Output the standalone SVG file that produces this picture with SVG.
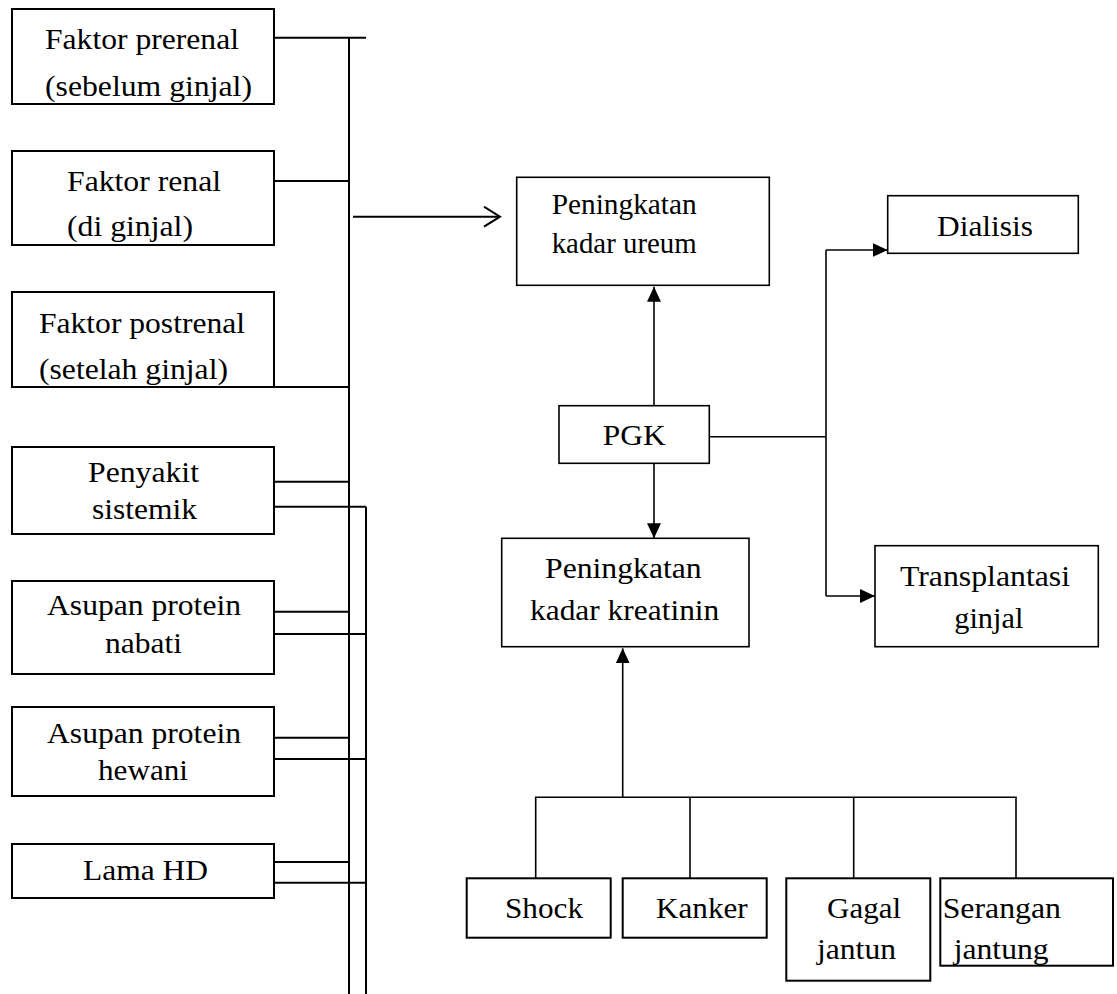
<svg xmlns="http://www.w3.org/2000/svg" width="1117" height="994" viewBox="0 0 1117 994">
<style>
  .box { fill: #ffffff; stroke: #000000; }
  .lb { stroke-width: 2; }
  .rb { stroke-width: 1.6; }
  .t { font-family: 'Liberation Serif', 'Times New Roman', Tinos, serif; font-size: 29px; fill: #000000; }
  .cl { stroke: #000000; stroke-width: 2; fill: none; }
  .cr { stroke: #000000; stroke-width: 1.6; fill: none; }
</style>
<defs>
  <marker id="fa" markerUnits="userSpaceOnUse" markerWidth="16" markerHeight="16" refX="15" refY="7" orient="auto">
    <path d="M0,0 L15,7 L0,14 z" fill="#000000"/>
  </marker>
  <marker id="oa" markerUnits="userSpaceOnUse" markerWidth="20" markerHeight="24" refX="17" refY="11" orient="auto">
    <path d="M1,1 L17,11 L1,21" fill="none" stroke="#000000" stroke-width="2"/>
  </marker>
  <clipPath id="clipSer">
    <rect x="940.3" y="878.3" width="172.7" height="87.4"/>
  </clipPath>
</defs>
<rect width="1117" height="994" fill="#ffffff"/>

<g id="connectors">
  <path class="cl" d="M349,37.7 V994"/>
  <path class="cl" d="M274,37.7 H366"/>
  <path class="cl" d="M274,181 H349"/>
  <path class="cl" d="M274,387 H349"/>
  <path class="cl" d="M274,481.7 H349"/>
  <path class="cl" d="M274,611.7 H349"/>
  <path class="cl" d="M274,737.7 H349"/>
  <path class="cl" d="M274,862 H349"/>
  <path class="cl" d="M366,506.7 V994"/>
  <path class="cl" d="M274,506.7 H366"/>
  <path class="cl" d="M274,634 H366"/>
  <path class="cl" d="M274,759 H366"/>
  <path class="cl" d="M274,882.7 H366"/>
  <path class="cl" d="M353,216.7 H500" marker-end="url(#oa)"/>
  <path class="cr" d="M654,405.7 V286.7" marker-end="url(#fa)"/>
  <path class="cr" d="M654,463.3 V538.3" marker-end="url(#fa)"/>
  <path class="cr" d="M709.3,436.7 H826"/>
  <path class="cr" d="M826,250 V596"/>
  <path class="cr" d="M826,250 H887.7" marker-end="url(#fa)"/>
  <path class="cr" d="M826,596 H875" marker-end="url(#fa)"/>
  <path class="cr" d="M535.7,878.3 V797.3 H1016 V878.3"/>
  <path class="cr" d="M690,797.3 V878.3"/>
  <path class="cr" d="M853.7,797.3 V878.3"/>
  <path class="cr" d="M622.7,797.3 V648.3" marker-end="url(#fa)"/>
</g>

<g id="prerenal">
  <rect class="box lb" x="12" y="9" width="262" height="95"/>
  <text class="t" font-family="Liberation Serif" x="45" y="49" textLength="194" lengthAdjust="spacingAndGlyphs">Faktor prerenal</text>
  <text class="t" font-family="Liberation Serif" x="45" y="95.5" textLength="207" lengthAdjust="spacingAndGlyphs">(sebelum ginjal)</text>
</g>
<g id="renal">
  <rect class="box lb" x="12" y="151" width="262" height="94"/>
  <text class="t" font-family="Liberation Serif" x="67" y="190.7" textLength="154" lengthAdjust="spacingAndGlyphs">Faktor renal</text>
  <text class="t" font-family="Liberation Serif" x="67" y="235.5" textLength="126" lengthAdjust="spacingAndGlyphs">(di ginjal)</text>
</g>
<g id="postrenal">
  <rect class="box lb" x="12" y="292" width="262" height="95"/>
  <text class="t" font-family="Liberation Serif" x="39" y="333" textLength="206" lengthAdjust="spacingAndGlyphs">Faktor postrenal</text>
  <text class="t" font-family="Liberation Serif" x="39" y="378.5" textLength="189" lengthAdjust="spacingAndGlyphs">(setelah ginjal)</text>
</g>
<g id="sistemik">
  <rect class="box lb" x="12" y="447" width="262" height="87"/>
  <text class="t" font-family="Liberation Serif" x="88" y="481.7" textLength="111" lengthAdjust="spacingAndGlyphs">Penyakit</text>
  <text class="t" font-family="Liberation Serif" x="92" y="519" textLength="105" lengthAdjust="spacingAndGlyphs">sistemik</text>
</g>
<g id="nabati">
  <rect class="box lb" x="12" y="581" width="262" height="93"/>
  <text class="t" font-family="Liberation Serif" x="47" y="615" textLength="194" lengthAdjust="spacingAndGlyphs">Asupan protein</text>
  <text class="t" font-family="Liberation Serif" x="105" y="653" textLength="77" lengthAdjust="spacingAndGlyphs">nabati</text>
</g>
<g id="hewani">
  <rect class="box lb" x="12" y="707" width="262" height="89"/>
  <text class="t" font-family="Liberation Serif" x="47" y="743" textLength="194" lengthAdjust="spacingAndGlyphs">Asupan protein</text>
  <text class="t" font-family="Liberation Serif" x="98" y="780" textLength="90" lengthAdjust="spacingAndGlyphs">hewani</text>
</g>
<g id="lamahd">
  <rect class="box lb" x="12" y="844" width="262" height="54"/>
  <text class="t" font-family="Liberation Serif" x="83" y="880" textLength="125" lengthAdjust="spacingAndGlyphs">Lama HD</text>
</g>

<g id="ureum">
  <rect class="box rb" x="516.7" y="177.3" width="252.6" height="108"/>
  <text class="t" font-family="Liberation Serif" x="551.7" y="214" textLength="145" lengthAdjust="spacingAndGlyphs">Peningkatan</text>
  <text class="t" font-family="Liberation Serif" x="551.7" y="253.3" textLength="145" lengthAdjust="spacingAndGlyphs">kadar ureum</text>
</g>
<g id="pgk">
  <rect class="box rb" x="559" y="405.7" width="150.3" height="57.6"/>
  <text class="t" font-family="Liberation Serif" x="602.7" y="445" textLength="63" lengthAdjust="spacingAndGlyphs">PGK</text>
</g>
<g id="dialisis">
  <rect class="box rb" x="887.7" y="195.7" width="190.6" height="57.6"/>
  <text class="t" font-family="Liberation Serif" x="937" y="236" textLength="96" lengthAdjust="spacingAndGlyphs">Dialisis</text>
</g>
<g id="kreatinin">
  <rect class="box rb" x="501.7" y="538.3" width="247.3" height="108.4"/>
  <text class="t" font-family="Liberation Serif" x="545" y="578.3" textLength="156.7" lengthAdjust="spacingAndGlyphs">Peningkatan</text>
  <text class="t" font-family="Liberation Serif" x="530" y="620.3" textLength="189.3" lengthAdjust="spacingAndGlyphs">kadar kreatinin</text>
</g>
<g id="transplantasi">
  <rect class="box rb" x="875" y="545.7" width="223.3" height="101"/>
  <text class="t" font-family="Liberation Serif" x="900" y="586" textLength="170" lengthAdjust="spacingAndGlyphs">Transplantasi</text>
  <text class="t" font-family="Liberation Serif" x="954.3" y="628.3" textLength="69" lengthAdjust="spacingAndGlyphs">ginjal</text>
</g>
<g id="shock">
  <rect class="box lb" x="466.7" y="878.3" width="144" height="59.4"/>
  <text class="t" font-family="Liberation Serif" x="505" y="918.3" textLength="78" lengthAdjust="spacingAndGlyphs">Shock</text>
</g>
<g id="kanker">
  <rect class="box lb" x="622.7" y="878.3" width="144" height="59.4"/>
  <text class="t" font-family="Liberation Serif" x="656" y="918.3" textLength="91.7" lengthAdjust="spacingAndGlyphs">Kanker</text>
</g>
<g id="gagal">
  <rect class="box lb" x="786.3" y="878.3" width="144" height="102.4"/>
  <text class="t" font-family="Liberation Serif" x="827" y="918.3" textLength="74" lengthAdjust="spacingAndGlyphs">Gagal</text>
  <text class="t" font-family="Liberation Serif" x="817" y="959" textLength="79" lengthAdjust="spacingAndGlyphs">jantun</text>
</g>
<g id="serangan">
  <rect class="box lb" x="940.3" y="878.3" width="172.7" height="87.4"/>
  <text class="t" font-family="Liberation Serif" x="942.7" y="918.3" textLength="118.3" lengthAdjust="spacingAndGlyphs">Serangan</text>
  <text class="t" font-family="Liberation Serif" x="953.7" y="959" textLength="95" lengthAdjust="spacingAndGlyphs" clip-path="url(#clipSer)">jantung</text>
</g>
</svg>
